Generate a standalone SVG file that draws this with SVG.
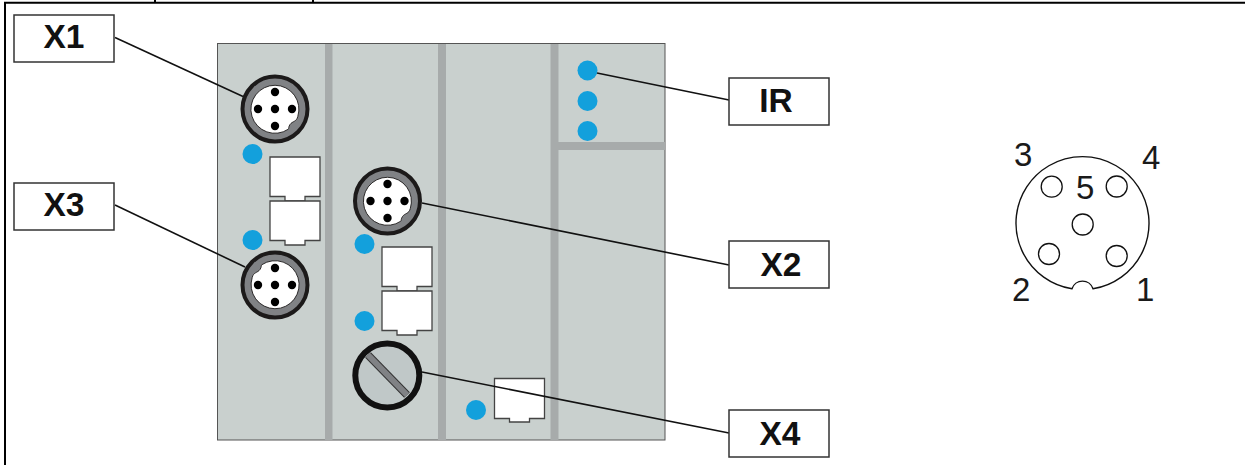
<svg xmlns="http://www.w3.org/2000/svg" width="1245" height="465" viewBox="0 0 1245 465">
<style>
.frame{stroke:#000;stroke-width:2;fill:none}
.lbl{fill:#fff;stroke:#333;stroke-width:1.5}
.lt{font-family:"Liberation Sans",Arial,sans-serif;font-weight:700;font-size:33.500px;fill:#111;text-anchor:middle}
.num{font-family:"Liberation Sans",Arial,sans-serif;font-size:33px;fill:#1a1a1a}
.bar{fill:#a7abab}
.led{fill:#13a0dc}
.port{fill:#fff;stroke:#444;stroke-width:1.3}
.wire{stroke:#111;stroke-width:1.6;fill:none}
.hole{fill:#fff;stroke:#111;stroke-width:1.3}
</style>
<defs>
<g id="m12">
<circle r="32.500" fill="#808285" stroke="#1c1a1a" stroke-width="4"/>
<path d="M22.800 7.500C21.500 13 17.500 12 15 15.500C13.300 18 14 19.500 13.300 20.200A24 24 0 1 1 22.800 7.500Z" fill="#fff" stroke="#1c1a1a" stroke-width="0.900"/>
<g fill="#000"><circle r="4.200"/><circle cy="-17" r="4.200"/><circle cy="17" r="4.200"/><circle cx="-17" r="4.200"/><circle cx="17" r="4.200"/></g>
</g>
<path id="rj" class="port" d="M0 0H50V39.500H35V44H15V39.500H0Z"/>
</defs>
<g id="frame" class="frame">
<path d="M5 465V2.800H1245"/>
<path d="M155 0V3M313 0V3"/>
</g>
<g id="housing">
<rect x="217.500" y="43.500" width="447.500" height="396.500" fill="#c9d0ce" stroke="#555" stroke-width="1"/>
<rect class="bar" x="325" y="44" width="7.500" height="396"/>
<rect class="bar" x="438" y="44" width="8" height="396"/>
<rect class="bar" x="550.500" y="44" width="8" height="396"/>
<rect class="bar" x="558" y="142" width="107" height="8"/>
</g>
<g id="ports">
<use href="#rj" x="270" y="157"/>
<use href="#rj" x="270" y="201"/>
<use href="#rj" x="382" y="247"/>
<use href="#rj" x="382" y="291"/>
<path class="port" d="M494.500 378.500H544.500V418.500H529.500V422H509.500V418.500H494.500Z"/>
</g>
<g id="leds" class="led">
<circle cx="252.500" cy="154" r="10"/>
<circle cx="252.500" cy="240" r="10"/>
<circle cx="364.500" cy="244" r="10"/>
<circle cx="364.500" cy="321" r="10"/>
<circle cx="476" cy="410" r="10"/>
<circle cx="587.500" cy="70.500" r="10"/>
<circle cx="587.500" cy="101" r="10"/>
<circle cx="587.500" cy="131" r="10"/>
</g>
<g id="conn-x1"><use href="#m12" transform="translate(275 109)"/></g>
<g id="conn-x3"><use href="#m12" transform="translate(275 285) rotate(180)"/></g>
<g id="conn-x2"><use href="#m12" transform="translate(387.500 201)"/></g>
<g id="conn-x4">
<circle cx="387.300" cy="375.500" r="32" fill="#c0c8c8" stroke="#111" stroke-width="6"/>
<path d="M368 355L407 395" stroke="#333" stroke-width="8"/>
<path d="M368 355L407 395" stroke="#808285" stroke-width="6"/>
</g>
<g id="connectors" class="wire">
<path d="M115 37.500L243 96.500"/>
<path d="M115 205L245 267"/>
<path d="M422 203L729 265"/>
<path d="M422 372L729 433"/>
<path d="M597 73L729 100"/>
</g>
<g id="x1"><rect class="lbl" x="14" y="15" width="100" height="47"/><text class="lt" x="64" y="48">X1</text></g>
<g id="x3"><rect class="lbl" x="14" y="183" width="100" height="47"/><text class="lt" x="64" y="216">X3</text></g>
<g id="ir"><rect class="lbl" x="729" y="78" width="100" height="47"/><text class="lt" x="776" y="112">IR</text></g>
<g id="x2"><rect class="lbl" x="729" y="241" width="100" height="47"/><text class="lt" x="781" y="276">X2</text></g>
<g id="x4"><rect class="lbl" x="729" y="410" width="100" height="47"/><text class="lt" x="780" y="445">X4</text></g>
<g id="pinout">
<path d="M1072 288.800A66.500 66.500 0 1 1 1093 288.800A11 11 0 0 0 1072 288.800Z" fill="#fff" stroke="#111" stroke-width="1.400"/>
<circle class="hole" cx="1051.700" cy="186.700" r="10.500"/>
<circle class="hole" cx="1116.700" cy="186.500" r="10.500"/>
<circle class="hole" cx="1082.700" cy="224.500" r="10.500"/>
<circle class="hole" cx="1049" cy="254" r="10.500"/>
<circle class="hole" cx="1116.700" cy="256" r="10.500"/>
<text class="num" x="1014" y="166">3</text>
<text class="num" x="1142" y="169">4</text>
<text class="num" x="1076" y="199">5</text>
<text class="num" x="1012" y="301">2</text>
<text class="num" x="1136" y="301">1</text>
</g>
</svg>
